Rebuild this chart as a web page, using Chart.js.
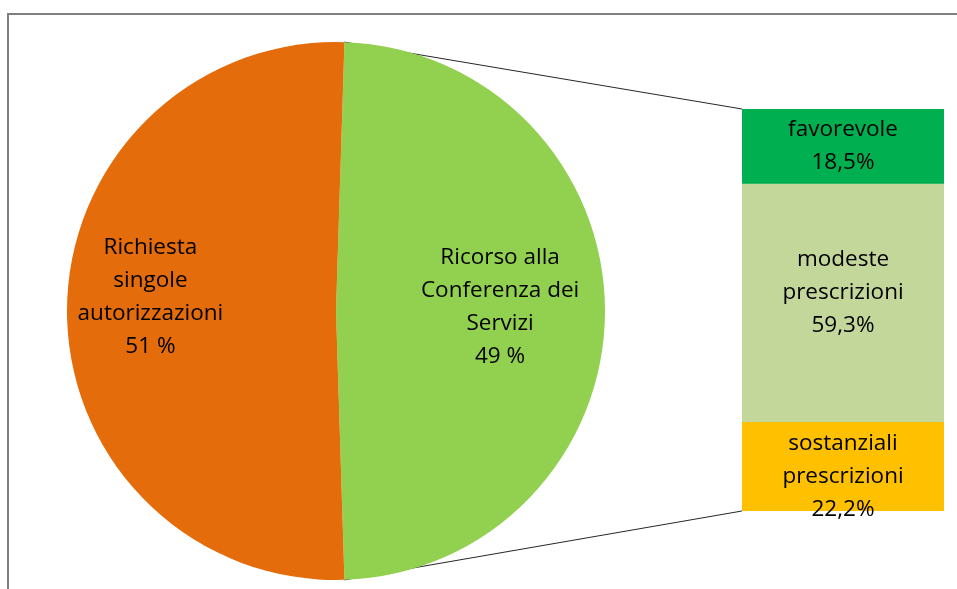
<!DOCTYPE html>
<html>
<head>
<meta charset="utf-8">
<script src="https://cdn.jsdelivr.net/npm/chart.js@4.4.1/dist/chart.umd.min.js"></script>
<style>
  body { margin: 0; background: #fff; }
  #wrap { position: relative; width: 957px; height: 589px; overflow: hidden; }
  #frame { position: absolute; left: 7px; top: 13px; width: 1000px; height: 700px;
           border-top: 2px solid #7f7f7f; border-left: 2px solid #7f7f7f; }
  canvas { position: absolute; left: 0; top: 0; }
</style>
</head>
<body>
<div id="wrap">
  <div id="frame"></div>
  <canvas id="barchart" width="957" height="589"></canvas>
  <canvas id="piechart" width="957" height="589"></canvas>
</div>
<script>
// main pie: the "Conferenza dei Servizi" slice is split out in the bar on the right
var pieLabels = [['Ricorso alla', 'Conferenza dei', 'Servizi'], ['Richiesta', 'singole', 'autorizzazioni']];
var pieValues = [49, 51];
var pieColors = ['#92D050', '#E46C0A'];

// breakdown of the opinions given by the Conferenza
var barLabels = [['favorevole'], ['modeste', 'prescrizioni'], ['sostanziali', 'prescrizioni']];
var barValues = [18.5, 59.3, 22.2];
var barColors = ['#00B050', '#C4D79B', '#FFC000'];

var FONT = '22.5px "Open Sans", Lato, sans-serif';
var LINE_H = 33;

function drawLines(ctx, lines, x, y) {
    ctx.save();
    ctx.font = FONT;
    ctx.fillStyle = '#000';
    ctx.textAlign = 'center';
    ctx.textBaseline = 'middle';
    var top = y - (lines.length - 1) * LINE_H / 2;
    lines.forEach(function(t, i) {
        ctx.fillText(t, x, top + i * LINE_H);
    });
    ctx.restore();
}

function pieText(i) { return pieLabels[i].concat([pieValues[i] + ' %']); }
function barText(i) { return barLabels[i].concat([barValues[i].toFixed(1).replace('.', ',') + '%']); }

// split slice faces the bar, centred on the right-hand side
var splitShare = pieValues[0] / (pieValues[0] + pieValues[1]);
var pieRotation = 90 - splitShare * 180;

var labelRadius = [0.61, 0.69];
var labelShift = [-4, -14];

var pieLabelPlugin = {
    id: 'pieLabels',
    afterDatasetsDraw: function(chart) {
        var arcs = chart.getDatasetMeta(0).data;
        arcs.forEach(function(arc, i) {
            var mid = (arc.startAngle + arc.endAngle) / 2;
            var r = arc.outerRadius * labelRadius[i];
            drawLines(chart.ctx, pieText(i), arc.x + Math.cos(mid) * r, arc.y + Math.sin(mid) * r + labelShift[i]);
        });
    }
};

var chart1 = document.getElementById('piechart');
var myChart1 = new Chart(chart1, {
    type: 'pie',
    data: {
        labels: pieLabels.map(function(l) { return l.join(' '); }),
        datasets: [{
            data: pieValues,
            backgroundColor: pieColors,
            borderWidth: 0
        }]
    },
    options: {
        responsive: false,
        animation: false,
        rotation: pieRotation,
        layout: { padding: { left: 67, right: 352, top: 42, bottom: 9 } },
        plugins: {
            legend: { display: false },
            tooltip: { enabled: false }
        }
    },
    plugins: [pieLabelPlugin]
});

var barShift = [0, -10, 10];

var barPlugin = {
    id: 'barExtras',
    beforeDatasetsDraw: function(chart) {
        // connector lines from the split slice edges to the bar corners
        var arc = myChart1.getDatasetMeta(0).data[0];
        var first = chart.getDatasetMeta(0).data[0];
        var last = chart.getDatasetMeta(barValues.length - 1).data[0];
        var left = first.x - first.width / 2;
        var ctx = chart.ctx;
        ctx.save();
        ctx.strokeStyle = '#262626';
        ctx.lineWidth = 1;
        ctx.beginPath();
        ctx.moveTo(arc.x + Math.cos(arc.startAngle) * arc.outerRadius, arc.y + Math.sin(arc.startAngle) * arc.outerRadius);
        ctx.lineTo(left, Math.min(first.y, first.base));
        ctx.moveTo(arc.x + Math.cos(arc.endAngle) * arc.outerRadius, arc.y + Math.sin(arc.endAngle) * arc.outerRadius);
        ctx.lineTo(left, Math.max(last.y, last.base));
        ctx.stroke();
        ctx.restore();
    },
    afterDatasetsDraw: function(chart) {
        barValues.forEach(function(v, i) {
            var el = chart.getDatasetMeta(i).data[0];
            drawLines(chart.ctx, barText(i), el.x, (el.y + el.base) / 2 + barShift[i]);
        });
    }
};

var chart2 = document.getElementById('barchart');
var myChart2 = new Chart(chart2, {
    type: 'bar',
    data: {
        labels: [''],
        datasets: barValues.map(function(v, i) {
            return {
                label: barLabels[i].join(' '),
                data: [v],
                backgroundColor: barColors[i],
                borderWidth: 0,
                barPercentage: 1,
                categoryPercentage: 1
            };
        })
    },
    options: {
        responsive: false,
        animation: false,
        layout: { padding: { left: 742, right: 13, top: 109, bottom: 78 } },
        scales: {
            x: { stacked: true, display: false },
            y: { stacked: true, display: false, reverse: true, min: 0, max: 100 }
        },
        plugins: {
            legend: { display: false },
            tooltip: { enabled: false }
        }
    },
    plugins: [barPlugin]
});
</script>
</body>
</html>
